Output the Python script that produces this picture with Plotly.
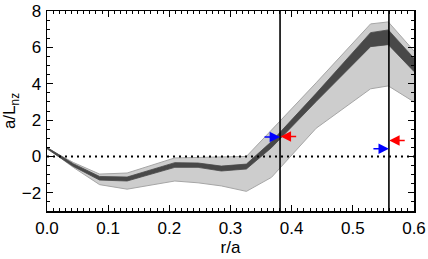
import plotly.graph_objects as go

# radial grid (r/a) and band boundaries
r = [0.0, 0.043, 0.086, 0.131, 0.209, 0.247, 0.285, 0.326, 0.367, 0.44, 0.529, 0.558, 0.6]
light_lo = [0.46, -0.6, -1.55, -1.8, -1.35, -1.45, -1.62, -1.92, -1.15, 1.55, 3.72, 3.88, 3.0]
light_hi = [0.46, -0.33, -0.97, -0.91, -0.08, -0.05, -0.05, 0.0, 1.45, 4.05, 7.29, 7.4, 5.8]
dark_lo = [0.42, -0.55, -1.3, -1.35, -0.6, -0.6, -0.8, -0.69, 0.48, 3.02, 6.04, 6.15, 4.67]
dark_hi = [0.5, -0.4, -1.1, -1.13, -0.34, -0.36, -0.53, -0.42, 0.82, 3.47, 6.81, 6.96, 5.4]

# vertical marker positions
vlines = [0.381, 0.559]
# arrows: (x, y, color, direction)  direction -1 = comes from left, +1 = from right
arrow_x = [0.381, 0.382, 0.559, 0.5595]
arrow_y = [1.07, 1.1, 0.42, 0.88]
arrow_col = ["#0000ff", "#ff0000", "#0000ff", "#ff0000"]
arrow_dir = [-1, 1, -1, 1]

x_ticks = [0.0, 0.1, 0.2, 0.3, 0.4, 0.5, 0.6]
y_ticks = [-2, 0, 2, 4, 6, 8]

fig = go.Figure()
# light band
fig.add_trace(go.Scatter(x=r, y=light_lo, mode="lines",
                         line=dict(color="#a6a6a6", width=1), showlegend=False))
fig.add_trace(go.Scatter(x=r, y=light_hi, mode="lines", fill="tonexty",
                         fillcolor="#cdcdcd",
                         line=dict(color="#a6a6a6", width=1), showlegend=False))
# dark band
fig.add_trace(go.Scatter(x=r, y=dark_lo, mode="lines",
                         line=dict(color="#484848", width=0.8), showlegend=False))
fig.add_trace(go.Scatter(x=r, y=dark_hi, mode="lines", fill="tonexty",
                         fillcolor="#484848",
                         line=dict(color="#484848", width=0.8), showlegend=False))
# zero dotted line
fig.add_trace(go.Scatter(x=[0.0, 0.6], y=[0, 0], mode="lines",
                         line=dict(color="black", width=2, dash="2px,4px"),
                         showlegend=False))
# vertical lines
for xv in vlines:
    fig.add_trace(go.Scatter(x=[xv, xv], y=[-3, 8], mode="lines",
                             line=dict(color="black", width=1.6), showlegend=False))

for xa, ya, c, d in zip(arrow_x, arrow_y, arrow_col, arrow_dir):
    fig.add_annotation(x=xa, y=ya, xref="x", yref="y", text="", showarrow=True,
                       ax=17 * d, ay=0, axref="pixel", ayref="pixel",
                       arrowhead=2, arrowsize=1.3, arrowwidth=1.6, arrowcolor=c,
                       standoff=0)

font = dict(family="Liberation Sans, Arial, Helvetica, sans-serif", size=17, color="black")
fig.update_layout(
    width=428, height=259,
    margin=dict(l=47, r=14, t=11, b=48, autoexpand=False),
    paper_bgcolor="white", plot_bgcolor="white",
    font=font,
    showlegend=False,
    hovermode=False,
)
fig.update_xaxes(range=[0, 0.6], tickvals=x_ticks, tickformat=".1f",
                 ticks="inside", ticklen=6, tickwidth=1, tickcolor="black",
                 minor=dict(ticks="inside", ticklen=3, dtick=0.01, tickcolor="black", tickwidth=1),
                 showline=True, linecolor="black", linewidth=1.5, mirror="allticks",
                 showgrid=False, zeroline=False, ticklabelstandoff=1, automargin=False,
                 title=dict(text="r/a", standoff=1, font=font))
fig.update_yaxes(range=[-3, 8], tickvals=y_ticks,
                 ticks="inside", ticklen=6, tickwidth=1, tickcolor="black",
                 minor=dict(ticks="inside", ticklen=3, dtick=0.5, tickcolor="black", tickwidth=1),
                 showline=True, linecolor="black", linewidth=1.5, mirror="allticks",
                 showgrid=False, zeroline=False, ticklabelstandoff=1, automargin=False,
                 title=dict(text="a/L<sub>nz</sub>", standoff=12, font=font))

# remove the default page margin so the figure fills the window exactly
fig.write_html("out.html",
               config={"displayModeBar": False, "staticPlot": True},
               post_script="document.body.style.margin='0';document.body.style.overflow='hidden';")
